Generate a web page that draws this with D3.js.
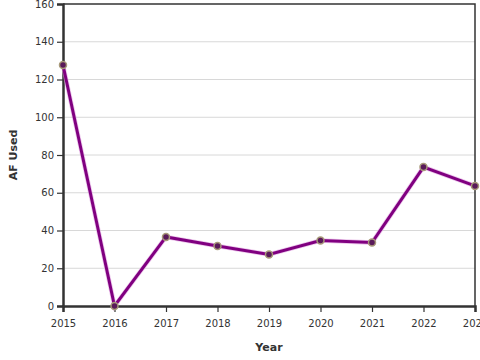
<!DOCTYPE html>
<html>
<head>
<meta charset="utf-8">
<script src="https://cdn.jsdelivr.net/npm/d3@7"></script>
<style>
  body { margin: 0; background: #fff; }
  text { font-family: "DejaVu Sans", sans-serif; fill: #333; }
</style>
</head>
<body>
<script>
// data
var years = [2015, 2016, 2017, 2018, 2019, 2020, 2021, 2022, 2023];
var afUsed = [127.7, 0, 36.6, 31.8, 27.3, 34.7, 33.6, 73.6, 63.6];
var yTicks = [0, 20, 40, 60, 80, 100, 120, 140, 160];

var width = 480;
var height = 360;
var margin = { top: 4, right: 5, bottom: 54, left: 63 };

var svg = d3
  .select("body")
  .append("svg")
  .attr("width", width)
  .attr("height", height);

var xScale = d3
  .scaleLinear()
  .domain([2015, 2023])
  .range([margin.left, width - margin.right]);
var yScale = d3
  .scaleLinear()
  .domain([0, 160])
  .range([height - margin.bottom, margin.top]);

// gridlines
svg
  .append("g")
  .selectAll("line")
  .data(yTicks.slice(1, -1))
  .enter()
  .append("line")
  .attr("x1", margin.left)
  .attr("x2", width - margin.right)
  .attr("y1", d => yScale(d))
  .attr("y2", d => yScale(d))
  .attr("stroke", "#d8d8d8")
  .attr("stroke-width", 1);

// top and right frame
svg
  .append("path")
  .attr("d", "M" + margin.left + "," + yScale(160) + "H" + xScale(2023) + "V" + yScale(0))
  .attr("fill", "none")
  .attr("stroke", "#333")
  .attr("stroke-width", 1.5);

// axes
var xAxis = svg
  .append("g")
  .attr("transform", "translate(0," + yScale(0) + ")")
  .call(d3.axisBottom(xScale).tickValues(years).tickFormat(d3.format("d")).tickSizeOuter(0).tickSize(6));
var yAxis = svg
  .append("g")
  .attr("transform", "translate(" + margin.left + ",0)")
  .call(d3.axisLeft(yScale).tickValues(yTicks).tickSizeOuter(0).tickSize(6));

[xAxis, yAxis].forEach(function(a) {
  a.select(".domain").attr("stroke", "#333").attr("stroke-width", 2.5);
  a.selectAll(".tick line").attr("stroke", "#333").attr("stroke-width", 1.2);
  a.selectAll(".tick text").attr("font-size", 10).attr("fill", "#333")
    .style("font-family", "'DejaVu Sans', sans-serif");
});
xAxis.selectAll(".tick text").attr("dy", "1.2em");

// line
var line = d3
  .line()
  .x((d, i) => xScale(years[i]))
  .y(d => yScale(d));

svg
  .append("path")
  .datum(afUsed)
  .attr("d", line)
  .attr("fill", "none")
  .attr("stroke", "#e0a0e0")
  .attr("stroke-width", 4.5)
  .attr("stroke-opacity", 0.6);
svg
  .append("path")
  .datum(afUsed)
  .attr("d", line)
  .attr("fill", "none")
  .attr("stroke", "#800080")
  .attr("stroke-width", 3);

// markers
svg
  .append("g")
  .selectAll("circle")
  .data(afUsed)
  .enter()
  .append("circle")
  .attr("cx", (d, i) => xScale(years[i]))
  .attr("cy", d => yScale(d))
  .attr("r", 3.5)
  .attr("fill", "#5a1a5a")
  .attr("stroke", "#a89a7a")
  .attr("stroke-width", 1.5);

// axis titles
svg
  .append("text")
  .attr("x", (margin.left + width - margin.right) / 2)
  .attr("y", 351)
  .attr("text-anchor", "middle")
  .attr("font-size", 11)
  .attr("font-weight", "bold")
  .text("Year");
svg
  .append("text")
  .attr("transform", "translate(17," + (yScale(80)) + ") rotate(-90)")
  .attr("text-anchor", "middle")
  .attr("font-size", 11)
  .attr("font-weight", "bold")
  .text("AF Used");
</script>
</body>
</html>
